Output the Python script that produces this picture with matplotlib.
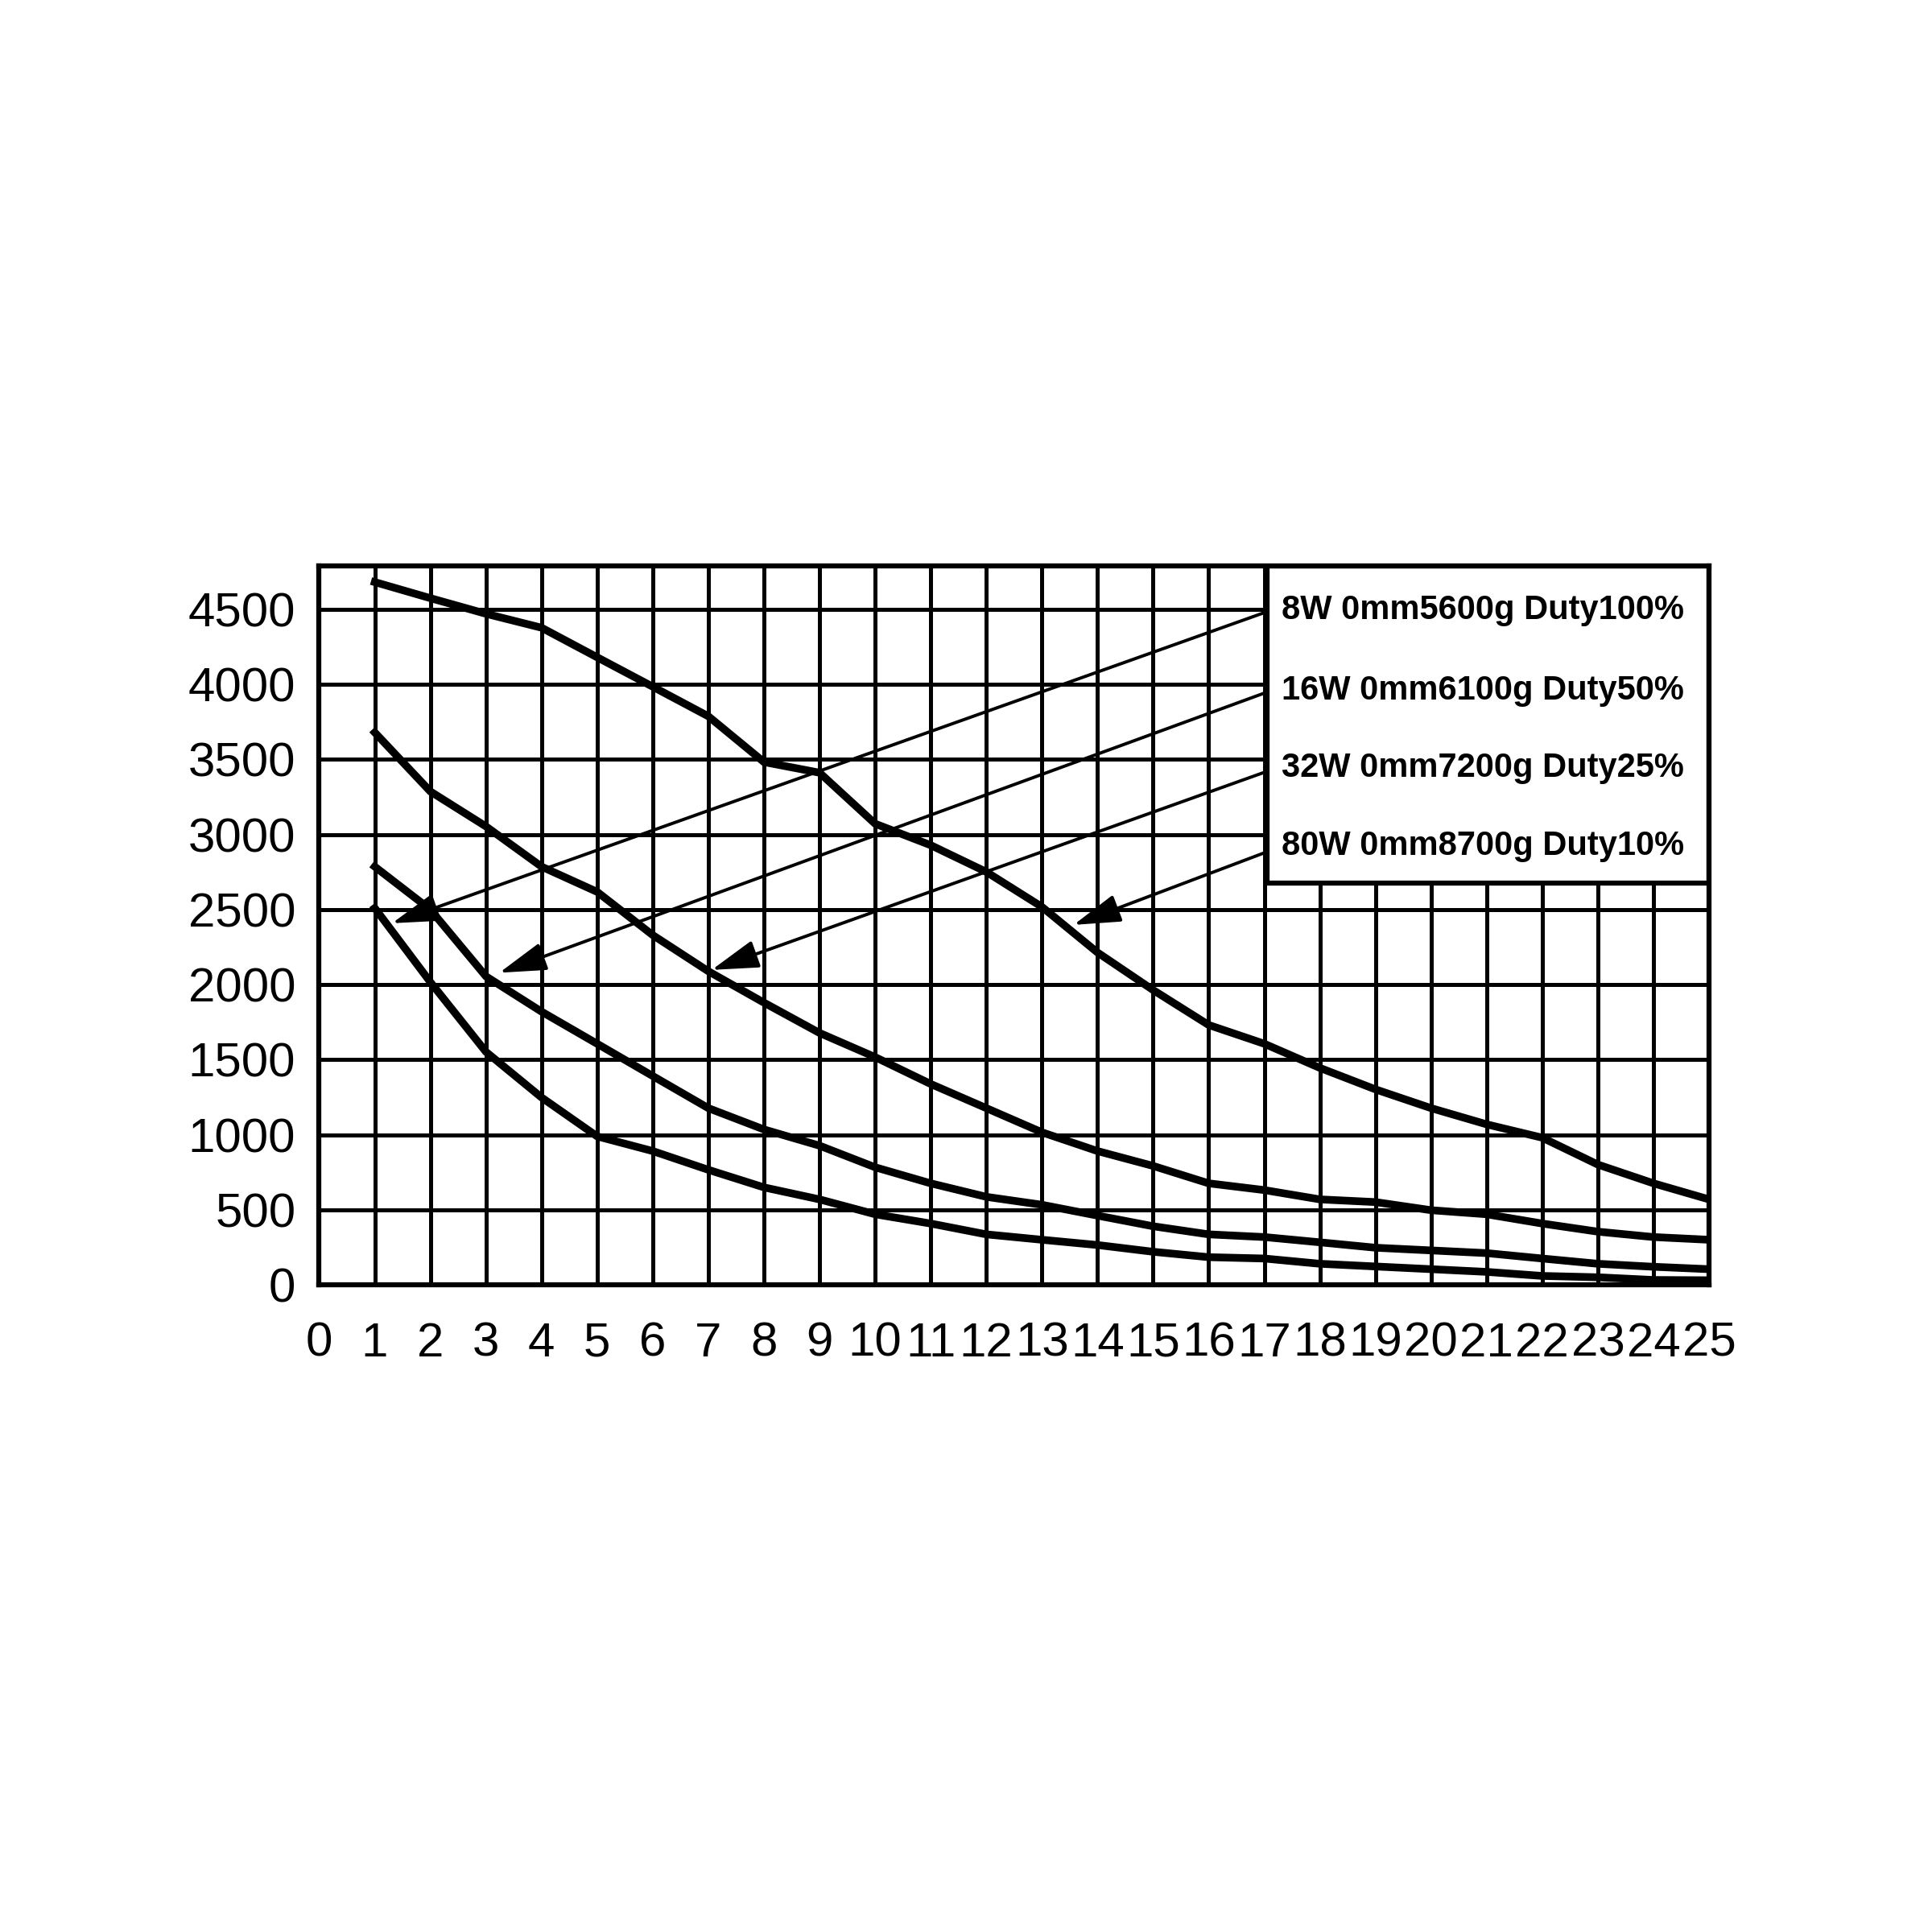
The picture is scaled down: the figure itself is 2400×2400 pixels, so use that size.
import matplotlib.pyplot as plt
from matplotlib.patches import Rectangle

# hold time (x) vs force for four duty settings
x_vals = list(range(1, 26))
force_8w = [4682, 4575, 4471, 4378, 4181, 3985, 3788, 3483, 3412, 3072,
            2929, 2751, 2518, 2214, 1964, 1731, 1606, 1445, 1302, 1177,
            1069, 980, 801, 676, 569]
force_16w = [3680, 3287, 3054, 2786, 2618, 2330, 2089, 1880, 1678, 1517,
             1338, 1177, 1016, 891, 792, 676, 631, 569, 551, 497,
             470, 408, 354, 318, 300]
force_32w = [2786, 2500, 2055, 1820, 1606, 1391, 1177, 1035, 927, 783,
             676, 586, 533, 461, 390, 336, 318, 283, 247, 229,
             211, 175, 140, 120, 104]
force_80w = [2510, 2017, 1552, 1248, 989, 891, 766, 649, 569, 470,
             408, 336, 300, 265, 220, 184, 175, 140, 122, 104,
             86, 59, 50, 32, 30]

labels = ["8W 0mm5600g Duty100%", "16W 0mm6100g Duty50%",
          "32W 0mm7200g Duty25%", "80W 0mm8700g Duty10%"]
label_y = [4495, 3960, 3445, 2925]
arrow_start_x = 17.05
arrow_start_y = [4485, 3949, 3421, 2885]
arrow_tip_x = [1.31, 3.24, 7.06, 13.57]
arrow_tip_y = [2409, 2079, 2098, 2398]

x_ticks = list(range(0, 26))
y_ticks = list(range(0, 5000, 500))
y_top = 4790
box_bottom = 2679

fig = plt.figure(figsize=(8, 8), dpi=300)
ax = fig.add_axes([0.1652, 0.335, 0.7194, 0.3721])

for series in [force_8w, force_16w, force_32w, force_80w]:
    ax.plot(x_vals, series, color="black", lw=2.3, zorder=2,
            solid_joinstyle="miter")

ax.set_xlim(0, 25)
ax.set_ylim(0, y_top)
ax.set_xticks(x_ticks)
ax.set_yticks(y_ticks)
ax.set_axisbelow(True)
ax.grid(True, color="black", lw=1.2)
ax.tick_params(axis="both", length=0, labelsize=14.4)
ax.tick_params(axis="x", pad=11)
ax.tick_params(axis="y", pad=7)
for lab in ax.get_xticklabels() + ax.get_yticklabels():
    lab.set_family(["Liberation Sans", "DejaVu Sans"])
for spine in ax.spines.values():
    spine.set_linewidth(1.5)
    spine.set_color("black")
    spine.set_zorder(6)

# legend box sitting in the upper-right corner of the grid
ax.add_patch(Rectangle((arrow_start_x, box_bottom), 25 - arrow_start_x,
                       y_top - box_bottom, facecolor="white",
                       edgecolor="black", lw=1.5, zorder=3))

for text, ty, sy, tx, tip_y in zip(labels, label_y, arrow_start_y,
                                   arrow_tip_x, arrow_tip_y):
    ax.text(17.31, ty, text, ha="left", va="center", fontsize=10,
            fontweight="bold",
            family=["Liberation Sans Narrow", "Liberation Sans"], zorder=5)
    ax.annotate("", xy=(tx, tip_y), xytext=(arrow_start_x, sy),
                arrowprops={"arrowstyle": "-|>,head_length=0.6,head_width=0.18",
                            "mutation_scale": 20, "lw": 0.95,
                            "color": "black", "shrinkA": 0, "shrinkB": 0},
                zorder=4)

fig.savefig("out.png", dpi=300, facecolor="white")
plt.close(fig)
